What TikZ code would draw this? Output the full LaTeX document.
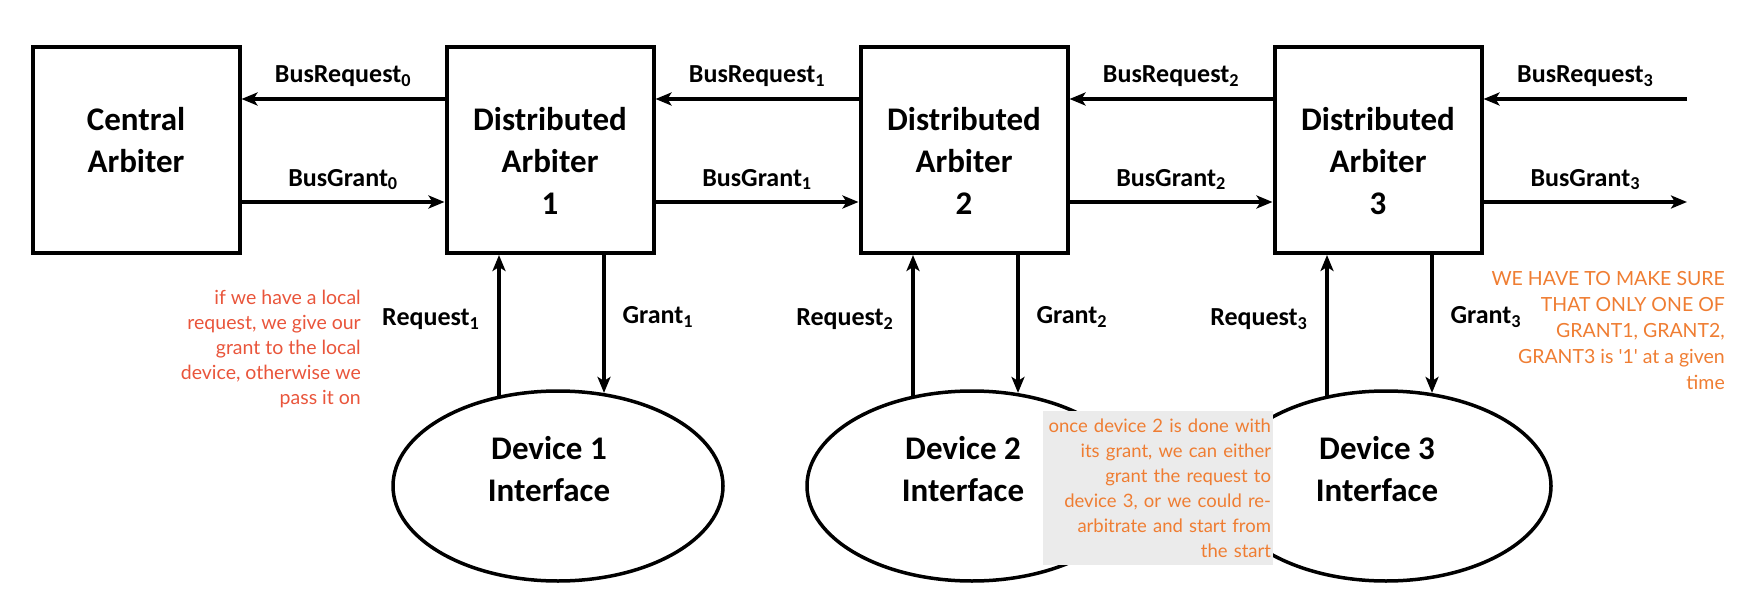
\documentclass[tikz,border=0pt]{standalone}
\usepackage{fontspec}
\setmainfont{Carlito}
\newfontfamily\notefont{Lato}
\usepackage{xcolor}
\usepackage{tikz}
\usetikzlibrary{arrows.meta}
\usetikzlibrary{positioning}
\usetikzlibrary{shapes.geometric}
\definecolor{notered}{HTML}{E9553B}
\definecolor{noteorange}{HTML}{EF7D32}
\definecolor{notegray}{HTML}{EBEBEB}

\begin{document}
\begin{tikzpicture}[x=1pt,y=-1pt,
    arbiter/.style={draw,line width=4pt,minimum width=207pt,minimum height=206pt,inner sep=0pt},
    device/.style={draw,ellipse,line width=3.5pt,minimum width=330pt,minimum height=190pt,inner sep=0pt},
    bigtext/.style={font=\bfseries\fontsize{33}{42}\selectfont,align=center,inner sep=0pt},
    sig/.style={line width=3.2pt,-{Stealth[length=16pt,width=13pt,inset=4pt]}},
    buslabel/.style={midway,anchor=base,yshift=16pt,font=\bfseries\fontsize{26}{30}\selectfont},
    reqlabel/.style={midway,anchor=base east,xshift=-18pt,inner sep=0pt,font=\bfseries\fontsize{26}{30}\selectfont},
    grantlabel/.style={midway,anchor=base west,xshift=17pt,inner sep=0pt,font=\bfseries\fontsize{26}{30}\selectfont},
    note/.style={font=\notefont\fontsize{19.5}{25}\selectfont,align=right,inner sep=0pt}]
\useasboundingbox (0,0) rectangle (1742,604);

%% arbiters
\node[arbiter] (ca) at (136,150) {};
\node[bigtext, below=62pt of ca.north] (catext) {Central\\Arbiter};
\foreach \k/\x in {1/550, 2/964, 3/1378} {
    \node[arbiter] (a\k) at (\x,150) {};
    \node[bigtext, below=62pt of a\k.north] (a\k text) {Distributed\\Arbiter\\\k};
}

%% devices
\foreach \k/\x in {1/558, 2/972, 3/1386} {
    \node[device] (e\k) at (\x,486) {};
    \node[bigtext, below=47pt of e\k.north, xshift=-9pt] (e\k text) {Device \k\\Interface};
}

%% bus chain
\foreach \l/\r/\k in {ca/a1/0, a1/a2/1, a2/a3/2} {
    \draw[sig] ([yshift=51pt]\r.west) -- ([yshift=51pt]\l.east) node[buslabel] {BusRequest\textsubscript{\k}};
    \draw[sig] ([yshift=-52pt]\l.east) -- ([yshift=-52pt]\r.west) node[buslabel] {BusGrant\textsubscript{\k}};
}
\coordinate (in3) at (1687,99);
\coordinate (out3) at (1687,202);
\draw[sig] (in3) -- ([yshift=51pt]a3.east) node[buslabel] {BusRequest\textsubscript{3}};
\draw[sig] ([yshift=-52pt]a3.east) -- (out3) node[buslabel] {BusGrant\textsubscript{3}};

%% local request / grant
\foreach \k in {1,2,3} {
    \coordinate (r\k) at ([xshift=-51pt]a\k.south);
    \coordinate (g\k) at ([xshift=54pt]a\k.south);
    \draw[sig] (r\k |- e\k.124) -- (r\k) node[reqlabel] {Request\textsubscript{\k}};
    \draw[sig] (g\k) -- (g\k |- e\k.64) node[grantlabel] {Grant\textsubscript{\k}};
}

%% notes
\node[note, text=notered, anchor=north east] (note1) at (361,290)
    {if we have a local\\request, we give our\\grant to the local\\device, otherwise we\\pass it on};
\node[note, text=noteorange, fill=notegray, minimum width=230pt, minimum height=154pt,
      text width=226pt, inner xsep=2pt, font=\notefont\fontsize{18.5}{25}\selectfont] (note2) at (1158,488)
    {once device 2 is done with\\its grant, we can either\\grant the request to\\device 3, or we could re-\\arbitrate and start from\\the start};
\node[note, text=noteorange, anchor=north east, font=\notefont\fontsize{19.5}{26}\selectfont] (note3) at (1725,271)
    {WE HAVE TO MAKE SURE\\THAT ONLY ONE OF\\GRANT1, GRANT2,\\GRANT3 is \textquotesingle 1\textquotesingle{} at a given\\time};
\end{tikzpicture}
\end{document}
